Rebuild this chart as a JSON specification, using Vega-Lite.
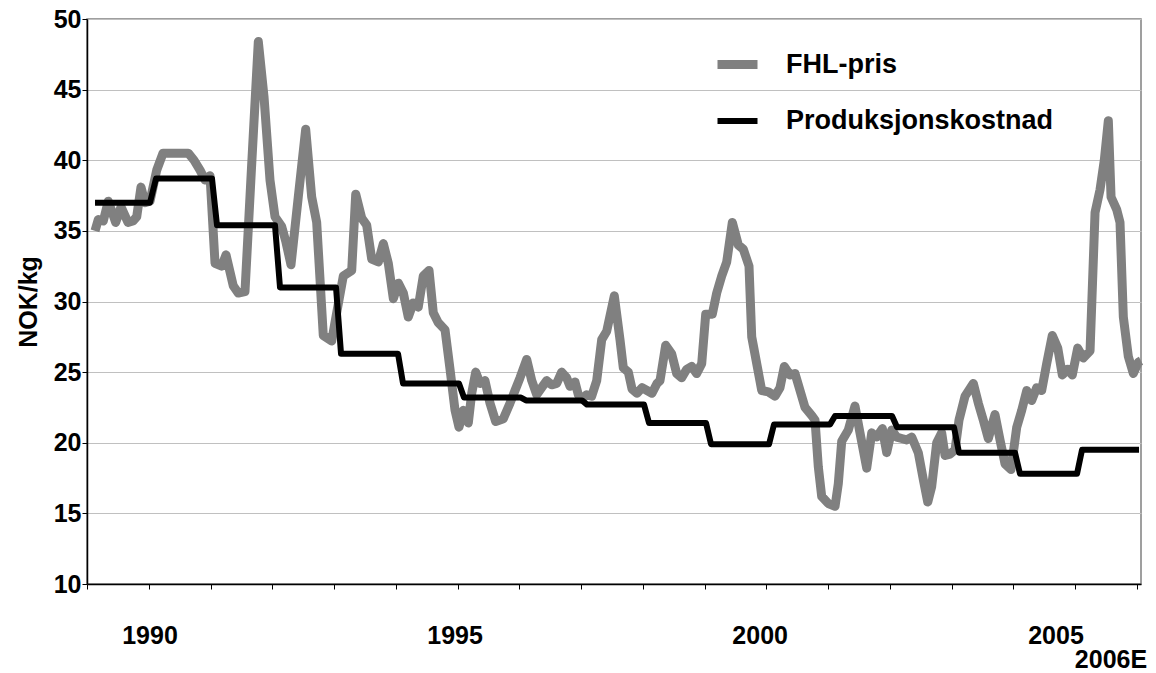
{
  "$schema": "https://vega.github.io/schema/vega-lite/v6.json",
  "width": 1054,
  "height": 565,
  "autosize": {"type": "none"},
  "padding": {"left": 87, "top": 19, "right": 15, "bottom": 89},
  "background": "white",
  "config": {
    "view": {"stroke": "#808080", "strokeWidth": 1.5},
    "font": "Liberation Sans",
    "axis": {"labelFont": "Liberation Sans", "titleFont": "Liberation Sans"}
  },
  "datasets": {
    "series": [
      {"t": 1989.130, "v": 35.0, "s": "FHL-pris"},
      {"t": 1989.183, "v": 35.8, "s": "FHL-pris"},
      {"t": 1989.264, "v": 35.7, "s": "FHL-pris"},
      {"t": 1989.345, "v": 37.1, "s": "FHL-pris"},
      {"t": 1989.465, "v": 35.6, "s": "FHL-pris"},
      {"t": 1989.551, "v": 36.7, "s": "FHL-pris"},
      {"t": 1989.664, "v": 35.6, "s": "FHL-pris"},
      {"t": 1989.745, "v": 35.7, "s": "FHL-pris"},
      {"t": 1989.805, "v": 36.0, "s": "FHL-pris"},
      {"t": 1989.874, "v": 38.1, "s": "FHL-pris"},
      {"t": 1989.939, "v": 37.0, "s": "FHL-pris"},
      {"t": 1990.020, "v": 37.1, "s": "FHL-pris"},
      {"t": 1990.129, "v": 39.3, "s": "FHL-pris"},
      {"t": 1990.231, "v": 40.5, "s": "FHL-pris"},
      {"t": 1990.640, "v": 40.5, "s": "FHL-pris"},
      {"t": 1990.733, "v": 40.0, "s": "FHL-pris"},
      {"t": 1990.830, "v": 39.3, "s": "FHL-pris"},
      {"t": 1990.911, "v": 38.6, "s": "FHL-pris"},
      {"t": 1990.992, "v": 38.9, "s": "FHL-pris"},
      {"t": 1991.073, "v": 32.7, "s": "FHL-pris"},
      {"t": 1991.181, "v": 32.5, "s": "FHL-pris"},
      {"t": 1991.251, "v": 33.3, "s": "FHL-pris"},
      {"t": 1991.369, "v": 31.1, "s": "FHL-pris"},
      {"t": 1991.450, "v": 30.6, "s": "FHL-pris"},
      {"t": 1991.558, "v": 30.7, "s": "FHL-pris"},
      {"t": 1991.664, "v": 39.5, "s": "FHL-pris"},
      {"t": 1991.774, "v": 48.4, "s": "FHL-pris"},
      {"t": 1991.866, "v": 44.5, "s": "FHL-pris"},
      {"t": 1991.963, "v": 38.6, "s": "FHL-pris"},
      {"t": 1992.044, "v": 36.0, "s": "FHL-pris"},
      {"t": 1992.153, "v": 35.3, "s": "FHL-pris"},
      {"t": 1992.222, "v": 34.2, "s": "FHL-pris"},
      {"t": 1992.303, "v": 32.6, "s": "FHL-pris"},
      {"t": 1992.421, "v": 37.4, "s": "FHL-pris"},
      {"t": 1992.541, "v": 42.2, "s": "FHL-pris"},
      {"t": 1992.638, "v": 37.4, "s": "FHL-pris"},
      {"t": 1992.719, "v": 35.6, "s": "FHL-pris"},
      {"t": 1992.826, "v": 27.6, "s": "FHL-pris"},
      {"t": 1992.962, "v": 27.2, "s": "FHL-pris"},
      {"t": 1993.043, "v": 29.2, "s": "FHL-pris"},
      {"t": 1993.150, "v": 31.8, "s": "FHL-pris"},
      {"t": 1993.286, "v": 32.2, "s": "FHL-pris"},
      {"t": 1993.351, "v": 37.6, "s": "FHL-pris"},
      {"t": 1993.448, "v": 35.9, "s": "FHL-pris"},
      {"t": 1993.529, "v": 35.4, "s": "FHL-pris"},
      {"t": 1993.610, "v": 33.0, "s": "FHL-pris"},
      {"t": 1993.717, "v": 32.8, "s": "FHL-pris"},
      {"t": 1993.798, "v": 34.1, "s": "FHL-pris"},
      {"t": 1993.879, "v": 32.7, "s": "FHL-pris"},
      {"t": 1993.960, "v": 30.2, "s": "FHL-pris"},
      {"t": 1994.041, "v": 31.3, "s": "FHL-pris"},
      {"t": 1994.122, "v": 30.6, "s": "FHL-pris"},
      {"t": 1994.202, "v": 28.9, "s": "FHL-pris"},
      {"t": 1994.283, "v": 29.9, "s": "FHL-pris"},
      {"t": 1994.364, "v": 29.6, "s": "FHL-pris"},
      {"t": 1994.445, "v": 31.8, "s": "FHL-pris"},
      {"t": 1994.538, "v": 32.2, "s": "FHL-pris"},
      {"t": 1994.607, "v": 29.2, "s": "FHL-pris"},
      {"t": 1994.688, "v": 28.5, "s": "FHL-pris"},
      {"t": 1994.797, "v": 28.0, "s": "FHL-pris"},
      {"t": 1994.878, "v": 25.2, "s": "FHL-pris"},
      {"t": 1994.959, "v": 22.3, "s": "FHL-pris"},
      {"t": 1995.023, "v": 21.1, "s": "FHL-pris"},
      {"t": 1995.093, "v": 22.3, "s": "FHL-pris"},
      {"t": 1995.174, "v": 21.4, "s": "FHL-pris"},
      {"t": 1995.229, "v": 23.5, "s": "FHL-pris"},
      {"t": 1995.294, "v": 25.0, "s": "FHL-pris"},
      {"t": 1995.363, "v": 24.2, "s": "FHL-pris"},
      {"t": 1995.444, "v": 24.4, "s": "FHL-pris"},
      {"t": 1995.525, "v": 22.8, "s": "FHL-pris"},
      {"t": 1995.618, "v": 21.5, "s": "FHL-pris"},
      {"t": 1995.741, "v": 21.7, "s": "FHL-pris"},
      {"t": 1995.849, "v": 22.8, "s": "FHL-pris"},
      {"t": 1995.930, "v": 23.7, "s": "FHL-pris"},
      {"t": 1996.011, "v": 24.6, "s": "FHL-pris"},
      {"t": 1996.120, "v": 25.9, "s": "FHL-pris"},
      {"t": 1996.201, "v": 24.4, "s": "FHL-pris"},
      {"t": 1996.282, "v": 23.4, "s": "FHL-pris"},
      {"t": 1996.362, "v": 23.9, "s": "FHL-pris"},
      {"t": 1996.443, "v": 24.4, "s": "FHL-pris"},
      {"t": 1996.524, "v": 24.1, "s": "FHL-pris"},
      {"t": 1996.605, "v": 24.2, "s": "FHL-pris"},
      {"t": 1996.686, "v": 25.0, "s": "FHL-pris"},
      {"t": 1996.767, "v": 24.6, "s": "FHL-pris"},
      {"t": 1996.821, "v": 24.0, "s": "FHL-pris"},
      {"t": 1996.902, "v": 24.3, "s": "FHL-pris"},
      {"t": 1996.955, "v": 23.4, "s": "FHL-pris"},
      {"t": 1997.010, "v": 23.1, "s": "FHL-pris"},
      {"t": 1997.091, "v": 23.4, "s": "FHL-pris"},
      {"t": 1997.172, "v": 23.3, "s": "FHL-pris"},
      {"t": 1997.253, "v": 24.4, "s": "FHL-pris"},
      {"t": 1997.334, "v": 27.3, "s": "FHL-pris"},
      {"t": 1997.415, "v": 27.9, "s": "FHL-pris"},
      {"t": 1997.538, "v": 30.4, "s": "FHL-pris"},
      {"t": 1997.630, "v": 27.3, "s": "FHL-pris"},
      {"t": 1997.684, "v": 25.3, "s": "FHL-pris"},
      {"t": 1997.765, "v": 25.0, "s": "FHL-pris"},
      {"t": 1997.825, "v": 23.8, "s": "FHL-pris"},
      {"t": 1997.906, "v": 23.5, "s": "FHL-pris"},
      {"t": 1997.987, "v": 23.9, "s": "FHL-pris"},
      {"t": 1998.068, "v": 23.7, "s": "FHL-pris"},
      {"t": 1998.148, "v": 23.5, "s": "FHL-pris"},
      {"t": 1998.229, "v": 24.2, "s": "FHL-pris"},
      {"t": 1998.278, "v": 24.4, "s": "FHL-pris"},
      {"t": 1998.370, "v": 26.9, "s": "FHL-pris"},
      {"t": 1998.467, "v": 26.3, "s": "FHL-pris"},
      {"t": 1998.548, "v": 24.9, "s": "FHL-pris"},
      {"t": 1998.629, "v": 24.6, "s": "FHL-pris"},
      {"t": 1998.710, "v": 25.2, "s": "FHL-pris"},
      {"t": 1998.791, "v": 25.4, "s": "FHL-pris"},
      {"t": 1998.872, "v": 24.9, "s": "FHL-pris"},
      {"t": 1998.953, "v": 25.6, "s": "FHL-pris"},
      {"t": 1999.018, "v": 29.1, "s": "FHL-pris"},
      {"t": 1999.125, "v": 29.1, "s": "FHL-pris"},
      {"t": 1999.196, "v": 30.6, "s": "FHL-pris"},
      {"t": 1999.277, "v": 31.8, "s": "FHL-pris"},
      {"t": 1999.358, "v": 32.8, "s": "FHL-pris"},
      {"t": 1999.449, "v": 35.6, "s": "FHL-pris"},
      {"t": 1999.546, "v": 34.0, "s": "FHL-pris"},
      {"t": 1999.627, "v": 33.7, "s": "FHL-pris"},
      {"t": 1999.719, "v": 32.5, "s": "FHL-pris"},
      {"t": 1999.763, "v": 27.5, "s": "FHL-pris"},
      {"t": 1999.844, "v": 25.6, "s": "FHL-pris"},
      {"t": 1999.925, "v": 23.7, "s": "FHL-pris"},
      {"t": 2000.032, "v": 23.6, "s": "FHL-pris"},
      {"t": 2000.140, "v": 23.3, "s": "FHL-pris"},
      {"t": 2000.221, "v": 23.9, "s": "FHL-pris"},
      {"t": 2000.291, "v": 25.4, "s": "FHL-pris"},
      {"t": 2000.383, "v": 24.8, "s": "FHL-pris"},
      {"t": 2000.464, "v": 24.9, "s": "FHL-pris"},
      {"t": 2000.545, "v": 23.7, "s": "FHL-pris"},
      {"t": 2000.626, "v": 22.5, "s": "FHL-pris"},
      {"t": 2000.739, "v": 21.9, "s": "FHL-pris"},
      {"t": 2000.788, "v": 21.6, "s": "FHL-pris"},
      {"t": 2000.841, "v": 18.3, "s": "FHL-pris"},
      {"t": 2000.896, "v": 16.2, "s": "FHL-pris"},
      {"t": 2001.003, "v": 15.7, "s": "FHL-pris"},
      {"t": 2001.112, "v": 15.5, "s": "FHL-pris"},
      {"t": 2001.165, "v": 17.1, "s": "FHL-pris"},
      {"t": 2001.220, "v": 20.1, "s": "FHL-pris"},
      {"t": 2001.327, "v": 20.9, "s": "FHL-pris"},
      {"t": 2001.435, "v": 22.6, "s": "FHL-pris"},
      {"t": 2001.516, "v": 20.7, "s": "FHL-pris"},
      {"t": 2001.625, "v": 18.2, "s": "FHL-pris"},
      {"t": 2001.706, "v": 20.7, "s": "FHL-pris"},
      {"t": 2001.787, "v": 20.4, "s": "FHL-pris"},
      {"t": 2001.878, "v": 21.0, "s": "FHL-pris"},
      {"t": 2001.949, "v": 19.3, "s": "FHL-pris"},
      {"t": 2002.030, "v": 20.9, "s": "FHL-pris"},
      {"t": 2002.110, "v": 20.4, "s": "FHL-pris"},
      {"t": 2002.191, "v": 20.3, "s": "FHL-pris"},
      {"t": 2002.272, "v": 20.2, "s": "FHL-pris"},
      {"t": 2002.353, "v": 20.4, "s": "FHL-pris"},
      {"t": 2002.460, "v": 19.3, "s": "FHL-pris"},
      {"t": 2002.541, "v": 17.4, "s": "FHL-pris"},
      {"t": 2002.613, "v": 15.8, "s": "FHL-pris"},
      {"t": 2002.677, "v": 16.9, "s": "FHL-pris"},
      {"t": 2002.758, "v": 20.0, "s": "FHL-pris"},
      {"t": 2002.839, "v": 20.7, "s": "FHL-pris"},
      {"t": 2002.893, "v": 19.1, "s": "FHL-pris"},
      {"t": 2002.974, "v": 19.2, "s": "FHL-pris"},
      {"t": 2003.055, "v": 19.5, "s": "FHL-pris"},
      {"t": 2003.119, "v": 21.6, "s": "FHL-pris"},
      {"t": 2003.217, "v": 23.3, "s": "FHL-pris"},
      {"t": 2003.351, "v": 24.2, "s": "FHL-pris"},
      {"t": 2003.432, "v": 22.8, "s": "FHL-pris"},
      {"t": 2003.513, "v": 21.6, "s": "FHL-pris"},
      {"t": 2003.594, "v": 20.3, "s": "FHL-pris"},
      {"t": 2003.702, "v": 22.0, "s": "FHL-pris"},
      {"t": 2003.783, "v": 20.2, "s": "FHL-pris"},
      {"t": 2003.864, "v": 18.5, "s": "FHL-pris"},
      {"t": 2003.961, "v": 18.1, "s": "FHL-pris"},
      {"t": 2004.054, "v": 21.1, "s": "FHL-pris"},
      {"t": 2004.135, "v": 22.3, "s": "FHL-pris"},
      {"t": 2004.216, "v": 23.7, "s": "FHL-pris"},
      {"t": 2004.297, "v": 23.0, "s": "FHL-pris"},
      {"t": 2004.377, "v": 23.9, "s": "FHL-pris"},
      {"t": 2004.458, "v": 23.7, "s": "FHL-pris"},
      {"t": 2004.539, "v": 25.6, "s": "FHL-pris"},
      {"t": 2004.630, "v": 27.6, "s": "FHL-pris"},
      {"t": 2004.718, "v": 26.7, "s": "FHL-pris"},
      {"t": 2004.792, "v": 24.8, "s": "FHL-pris"},
      {"t": 2004.880, "v": 25.2, "s": "FHL-pris"},
      {"t": 2004.954, "v": 24.8, "s": "FHL-pris"},
      {"t": 2005.041, "v": 26.7, "s": "FHL-pris"},
      {"t": 2005.132, "v": 26.0, "s": "FHL-pris"},
      {"t": 2005.241, "v": 26.5, "s": "FHL-pris"},
      {"t": 2005.322, "v": 36.3, "s": "FHL-pris"},
      {"t": 2005.402, "v": 37.9, "s": "FHL-pris"},
      {"t": 2005.472, "v": 40.0, "s": "FHL-pris"},
      {"t": 2005.537, "v": 42.8, "s": "FHL-pris"},
      {"t": 2005.581, "v": 37.4, "s": "FHL-pris"},
      {"t": 2005.673, "v": 36.5, "s": "FHL-pris"},
      {"t": 2005.726, "v": 35.6, "s": "FHL-pris"},
      {"t": 2005.780, "v": 28.9, "s": "FHL-pris"},
      {"t": 2005.861, "v": 26.1, "s": "FHL-pris"},
      {"t": 2005.942, "v": 24.9, "s": "FHL-pris"},
      {"t": 2006.023, "v": 25.7, "s": "FHL-pris"},
      {"t": 2006.066, "v": 25.8, "s": "FHL-pris"},
      {"t": 1989.130, "v": 37.0, "s": "Produksjonskostnad"},
      {"t": 1990.020, "v": 37.0, "s": "Produksjonskostnad"},
      {"t": 1990.117, "v": 38.7, "s": "Produksjonskostnad"},
      {"t": 1991.024, "v": 38.7, "s": "Produksjonskostnad"},
      {"t": 1991.105, "v": 35.4, "s": "Produksjonskostnad"},
      {"t": 1992.044, "v": 35.4, "s": "Produksjonskostnad"},
      {"t": 1992.125, "v": 31.0, "s": "Produksjonskostnad"},
      {"t": 1993.032, "v": 31.0, "s": "Produksjonskostnad"},
      {"t": 1993.113, "v": 26.3, "s": "Produksjonskostnad"},
      {"t": 1994.036, "v": 26.3, "s": "Produksjonskostnad"},
      {"t": 1994.117, "v": 24.2, "s": "Produksjonskostnad"},
      {"t": 1995.023, "v": 24.2, "s": "Produksjonskostnad"},
      {"t": 1995.104, "v": 23.2, "s": "Produksjonskostnad"},
      {"t": 1996.027, "v": 23.2, "s": "Produksjonskostnad"},
      {"t": 1996.108, "v": 23.0, "s": "Produksjonskostnad"},
      {"t": 1997.015, "v": 23.0, "s": "Produksjonskostnad"},
      {"t": 1997.096, "v": 22.7, "s": "Produksjonskostnad"},
      {"t": 1998.019, "v": 22.7, "s": "Produksjonskostnad"},
      {"t": 1998.100, "v": 21.4, "s": "Produksjonskostnad"},
      {"t": 1999.023, "v": 21.4, "s": "Produksjonskostnad"},
      {"t": 1999.104, "v": 19.9, "s": "Produksjonskostnad"},
      {"t": 2000.043, "v": 19.9, "s": "Produksjonskostnad"},
      {"t": 2000.124, "v": 21.3, "s": "Produksjonskostnad"},
      {"t": 2001.031, "v": 21.3, "s": "Produksjonskostnad"},
      {"t": 2001.112, "v": 21.9, "s": "Produksjonskostnad"},
      {"t": 2002.035, "v": 21.9, "s": "Produksjonskostnad"},
      {"t": 2002.116, "v": 21.1, "s": "Produksjonskostnad"},
      {"t": 2003.038, "v": 21.1, "s": "Produksjonskostnad"},
      {"t": 2003.119, "v": 19.3, "s": "Produksjonskostnad"},
      {"t": 2004.026, "v": 19.3, "s": "Produksjonskostnad"},
      {"t": 2004.107, "v": 17.8, "s": "Produksjonskostnad"},
      {"t": 2005.030, "v": 17.8, "s": "Produksjonskostnad"},
      {"t": 2005.111, "v": 19.5, "s": "Produksjonskostnad"},
      {"t": 2006.034, "v": 19.5, "s": "Produksjonskostnad"}
    ],
    "labels1": [
      {"t": 1990.02, "label": "1990"},
      {"t": 1994.96, "label": "1995"},
      {"t": 1999.90, "label": "2000"},
      {"t": 2004.69, "label": "2005"}
    ],
    "labels2": [
      {"t": 2005.58, "label": "2006E"}
    ]
  },
  "layer": [
    {
      "data": {"name": "series"},
      "mark": {"type": "line", "strokeJoin": "round", "strokeCap": "butt", "clip": false},
      "encoding": {
        "x": {
          "field": "t", "type": "quantitative",
          "scale": {"domain": [1989, 2006.066], "nice": false, "zero": false},
          "axis": {
            "values": [1989,1990,1991,1992,1993,1994,1995,1996,1997,1998,1999,2000,2001,2002,2003,2004,2005,2006],
            "labels": false, "grid": false, "title": null,
            "tickSize": 5, "tickColor": "#000000", "tickWidth": 1,
            "domainColor": "#000000", "domainWidth": 1.5
          }
        },
        "y": {
          "field": "v", "type": "quantitative",
          "scale": {"domain": [10, 50], "nice": false, "zero": false},
          "axis": {
            "values": [10,15,20,25,30,35,40,45,50],
            "title": "NOK/kg",
            "titleFontSize": 25, "titleFontWeight": "bold", "titleColor": "#000000",
            "titlePadding": 12,
            "labelFontSize": 25, "labelFontWeight": "bold", "labelColor": "#000000",
            "labelPadding": 1,
            "tickSize": 5, "tickColor": "#000000", "tickWidth": 1,
            "domainColor": "#000000", "domainWidth": 1.5,
            "grid": true, "gridColor": "#c0c0c0", "gridWidth": 1
          }
        },
        "color": {
          "field": "s", "type": "nominal",
          "scale": {"domain": ["FHL-pris", "Produksjonskostnad"], "range": ["#808080", "#000000"]},
          "legend": {
            "orient": "none", "legendX": 626, "legendY": 21,
            "title": null, "padding": 0,
            "symbolType": "stroke", "symbolSize": 1600,
            "labelFontSize": 27, "labelFontWeight": "bold", "labelColor": "#000000",
            "labelOffset": 24, "rowPadding": 15, "labelFont": "Liberation Sans", "labelLimit": 0
          }
        },
        "strokeWidth": {
          "field": "s", "type": "nominal",
          "scale": {"domain": ["FHL-pris", "Produksjonskostnad"], "range": [9, 6]},
          "legend": {
            "orient": "none", "legendX": 626, "legendY": 21,
            "title": null, "padding": 0,
            "symbolType": "stroke", "symbolSize": 1600,
            "labelFontSize": 27, "labelFontWeight": "bold", "labelColor": "#000000",
            "labelOffset": 24, "rowPadding": 15, "labelFont": "Liberation Sans", "labelLimit": 0
          }
        }
      }
    },
    {
      "data": {"name": "labels1"},
      "mark": {"type": "text", "font": "Liberation Sans", "fontSize": 25, "fontWeight": "bold", "color": "#000000", "baseline": "middle", "align": "center", "dy": 52, "clip": false},
      "encoding": {
        "x": {"field": "t", "type": "quantitative"},
        "y": {"datum": 10},
        "text": {"field": "label"}
      }
    },
    {
      "data": {"name": "labels2"},
      "mark": {"type": "text", "font": "Liberation Sans", "fontSize": 25, "fontWeight": "bold", "color": "#000000", "baseline": "middle", "align": "center", "dy": 76, "clip": false},
      "encoding": {
        "x": {"field": "t", "type": "quantitative"},
        "y": {"datum": 10},
        "text": {"field": "label"}
      }
    }
  ]
}
